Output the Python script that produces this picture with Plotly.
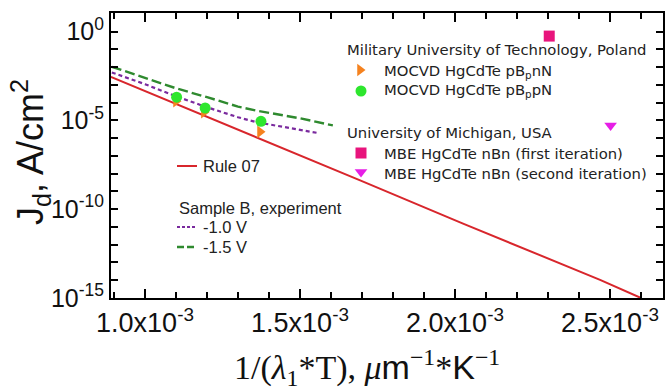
import plotly.graph_objects as go

# ---------------- data ----------------
rule07_x = [0.890e-3, 1.361e-3, 1.694e-3, 2.026e-3, 2.468e-3, 2.600e-3]
rule07_y = [2.82e-3, 1.12e-6, 4.17e-9, 1.55e-11, 1.05e-14, 1.0e-15]

v15_x = [0.893e-3, 1.00e-3, 1.10e-3, 1.20e-3, 1.30e-3, 1.36e-3, 1.50e-3, 1.606e-3]
v15_y = [1.05e-2, 2.40e-3, 6.46e-4, 2.04e-4, 6.03e-5, 3.55e-5, 1.32e-5, 5.25e-6]

v10_x = [0.893e-3, 1.00e-3, 1.10e-3, 1.20e-3, 1.30e-3, 1.36e-3, 1.50e-3, 1.558e-3]
v10_y = [5.01e-3, 1.10e-3, 2.29e-4, 5.50e-5, 1.51e-5, 7.94e-6, 2.95e-6, 1.95e-6]

pbpnN_x = [1.10e-3, 1.19e-3, 1.371e-3]
pbpnN_y = [1.20e-4, 2.88e-5, 2.29e-6]

pbppN_x = [1.102e-3, 1.194e-3, 1.374e-3]
pbppN_y = [2.04e-4, 5.01e-5, 8.91e-6]

nbn1_x = [2.304e-3]
nbn1_y = [0.562]

nbn2_x = [2.502e-3]
nbn2_y = [5.25e-6]

x_tickvals = [1.0e-3, 1.5e-3, 2.0e-3, 2.5e-3]
x_ticktext = ["1.0x10<sup>-3</sup>", "1.5x10<sup>-3</sup>", "2.0x10<sup>-3</sup>", "2.5x10<sup>-3</sup>"]
y_decades = list(range(-15, 2))
y_labels = {0: "10<sup>0</sup>", -5: "10<sup>-5</sup>", -10: "10<sup>-10</sup>", -15: "10<sup>-15</sup>"}

# ---------------- styles ----------------
RED = "#d8262c"
DGREEN = "#2f8a2f"
PURPLE = "#7a2a9e"
LIME = "#2ee62e"
ORANGE = "#f5821f"
PINK = "#e8147c"
MAGENTA = "#e61ee6"
SANS = "Liberation Sans, Arial, sans-serif"
VERD = "DejaVu Sans, Verdana, sans-serif"
SERIF = "Liberation Serif, Times New Roman, serif"

W, H = 665, 391
L, R, T, B = 111, 663, 13, 298


def px(x):
    return (x - L) / (R - L)


def py(y):
    return (B - y) / (B - T)


fig = go.Figure()

fig.add_trace(go.Scatter(x=rule07_x, y=rule07_y, mode="lines",
                         line=dict(color=RED, width=2), showlegend=False))
fig.add_trace(go.Scatter(x=v10_x, y=v10_y, mode="lines",
                         line=dict(color=PURPLE, width=2.2, dash="4px,3px"), showlegend=False))
fig.add_trace(go.Scatter(x=v15_x, y=v15_y, mode="lines",
                         line=dict(color=DGREEN, width=2.4, dash="10px,4px"), showlegend=False))
fig.add_trace(go.Scatter(x=pbpnN_x, y=pbpnN_y, mode="markers",
                         marker=dict(symbol="triangle-right", size=11, color=ORANGE), showlegend=False))
fig.add_trace(go.Scatter(x=pbppN_x, y=pbppN_y, mode="markers",
                         marker=dict(symbol="circle", size=11, color=LIME), showlegend=False))
fig.add_trace(go.Scatter(x=nbn1_x, y=nbn1_y, mode="markers",
                         marker=dict(symbol="square", size=11, color=PINK), showlegend=False))
fig.add_trace(go.Scatter(x=nbn2_x, y=nbn2_y, mode="markers",
                         marker=dict(symbol="triangle-down", size=11, color=MAGENTA), showlegend=False))

# ---------------- legend keys on a pixel-coordinate overlay ----------------
key_marks = [  # (x_px, y_px, symbol, color)
    (360, 70, "triangle-right", ORANGE),
    (361, 91, "circle", LIME),
    (361, 153, "square", PINK),
    (361, 172, "triangle-down", MAGENTA),
]
for kx, ky, sym, col in key_marks:
    fig.add_trace(go.Scatter(x=[kx], y=[ky], xaxis="x2", yaxis="y2", mode="markers",
                             marker=dict(symbol=sym, size=11, color=col), showlegend=False,
                             hoverinfo="skip"))

key_lines = [  # (x0, x1, y, color, dash, width)
    (177, 197, 166, RED, "solid", 2),
    (177, 197, 227, PURPLE, "3px,2px", 2.2),
    (177, 197, 247, DGREEN, "7px,3px", 2.4),
]
for x0, x1, y, col, dash, w in key_lines:
    fig.add_shape(type="line", xref="paper", yref="paper", x0=px(x0), x1=px(x1),
                  y0=py(y), y1=py(y), line=dict(color=col, width=w, dash=dash))

texts = [  # (x_px, y_px, text, font, size)
    (345, 50, "Military University of Technology, Poland", VERD, 14.8),
    (382, 71, "MOCVD HgCdTe pB<sub>p</sub>nN", VERD, 14.8),
    (382, 91, "MOCVD HgCdTe pB<sub>p</sub>pN", VERD, 14.8),
    (345, 132, "University of Michigan, USA", VERD, 14.8),
    (382, 153, "MBE HgCdTe nBn (first iteration)", VERD, 14.8),
    (382, 173, "MBE HgCdTe nBn (second iteration)", VERD, 14.8),
    (201, 166, "Rule 07", SANS, 16.5),
    (177, 208, "Sample B, experiment", SANS, 16.5),
    (201, 227, "-1.0 V", SANS, 16.5),
    (201, 247, "-1.5 V", SANS, 16.5),
]
for tx, ty, txt, fam, sz in texts:
    fig.add_annotation(x=px(tx), y=py(ty), xref="paper", yref="paper", text=txt,
                       showarrow=False, xanchor="left", yanchor="middle",
                       font=dict(family=fam, size=sz, color="#222222"))

# axis titles
fig.add_annotation(x=px(30), y=py(152), xref="paper", yref="paper",
                   xanchor="center", yanchor="middle",
                   text="J<sub>d</sub>, A/cm<sup>2</sup>", textangle=-90, showarrow=False,
                   font=dict(family=SANS, size=36, color="#111111"))
fig.add_annotation(x=px(367), y=py(367), xref="paper", yref="paper",
                   xanchor="center", yanchor="middle",
                   text=("1/(<i>λ</i><sub>1</sub>*T), <i>μ</i>"
                         "<span style=\"font-family:Liberation Sans\">m</span><sup>−1</sup>*"
                         "<span style=\"font-family:Liberation Sans\">K</span><sup>−1</sup>"),
                   showarrow=False, font=dict(family=SERIF, size=34, color="#111111"))

fig.update_layout(
    width=W, height=H,
    margin=dict(l=L, r=W - R, t=T, b=H - B, pad=0, autoexpand=False),
    paper_bgcolor="white", plot_bgcolor="white",
    showlegend=False,
    xaxis=dict(range=[0.8903e-3, 2.671e-3], tickvals=x_tickvals, ticktext=x_ticktext,
               ticks="inside", ticklen=9, tickwidth=2, tickcolor="black",
               minor=dict(dtick=0.1e-3, tick0=1.0e-3, ticks="inside", ticklen=6,
                          tickwidth=1.5, tickcolor="black"),
               showline=True, linecolor="black", linewidth=2, mirror="ticks",
               showgrid=False, zeroline=False, automargin=False,
               tickfont=dict(family=SANS, size=27, color="#111111")),
    yaxis=dict(type="log", range=[-15, 1.05],
               tickvals=[10.0 ** d for d in y_decades],
               ticktext=[y_labels.get(d, "") for d in y_decades],
               ticks="inside", ticklen=7, tickwidth=1.5, tickcolor="black",
               showline=True, linecolor="black", linewidth=2, mirror="ticks",
               showgrid=False, zeroline=False, automargin=False,
               tickfont=dict(family=SANS, size=25, color="#111111")),
    xaxis2=dict(range=[L, R], overlaying="x", visible=False, fixedrange=True),
    yaxis2=dict(range=[B, T], overlaying="y", visible=False, fixedrange=True),
)

fig.write_html("out.html", config={"displayModeBar": False},
               post_script="document.body.style.margin='0';document.body.style.padding='0';")
